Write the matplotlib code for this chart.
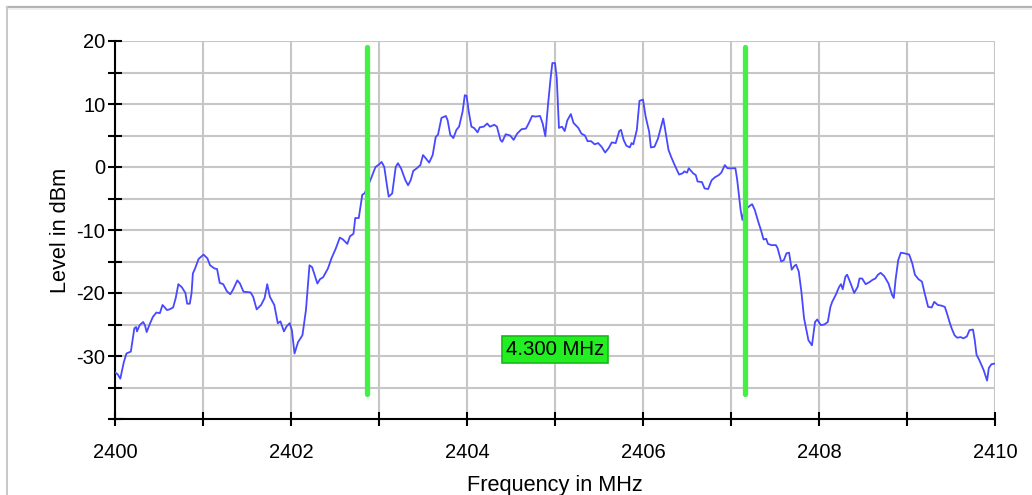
import matplotlib
matplotlib.use("Agg")
import matplotlib.pyplot as plt
from matplotlib.lines import Line2D

plt.rcParams['font.family'] = ['Liberation Sans', 'DejaVu Sans']

# ---------------- data ----------------
freq = [
    2400.00, 2400.03, 2400.06, 2400.10, 2400.13, 2400.18, 2400.22, 2400.24, 2400.25, 2400.28,
    2400.32, 2400.34, 2400.36, 2400.39, 2400.43, 2400.47, 2400.51, 2400.54, 2400.56, 2400.59,
    2400.62, 2400.66, 2400.69, 2400.72, 2400.76, 2400.80, 2400.82, 2400.85, 2400.87, 2400.885,
    2400.91, 2400.95, 2401.006, 2401.05, 2401.08, 2401.13, 2401.16, 2401.19, 2401.23, 2401.27,
    2401.31, 2401.34, 2401.39, 2401.42, 2401.46, 2401.54, 2401.57, 2401.61, 2401.66, 2401.70,
    2401.73, 2401.76, 2401.81, 2401.85, 2401.88, 2401.92, 2401.95, 2401.985, 2402.01, 2402.04,
    2402.08, 2402.13, 2402.17, 2402.21, 2402.24, 2402.30, 2402.33, 2402.365, 2402.42, 2402.46,
    2402.51, 2402.555, 2402.59, 2402.64, 2402.67, 2402.71, 2402.73, 2402.77, 2402.79, 2402.81,
    2402.835, 2402.86, 2402.91, 2402.96, 2403.00, 2403.03, 2403.06, 2403.09, 2403.11, 2403.15,
    2403.19, 2403.215, 2403.25, 2403.30, 2403.33, 2403.36, 2403.39, 2403.43, 2403.47, 2403.50,
    2403.53, 2403.57, 2403.61, 2403.645, 2403.67, 2403.71, 2403.76, 2403.78, 2403.81, 2403.845,
    2403.88, 2403.91, 2403.95, 2403.975, 2403.995, 2404.02, 2404.05, 2404.08, 2404.12, 2404.145,
    2404.19, 2404.23, 2404.26, 2404.31, 2404.34, 2404.38, 2404.40, 2404.44, 2404.49, 2404.53,
    2404.57, 2404.62, 2404.67, 2404.70, 2404.74, 2404.78, 2404.83, 2404.86, 2404.89, 2404.92,
    2404.95, 2404.97, 2405.00, 2405.02, 2405.045, 2405.08, 2405.11, 2405.14, 2405.18, 2405.21,
    2405.265, 2405.30, 2405.34, 2405.37, 2405.41, 2405.45, 2405.49, 2405.53, 2405.57, 2405.61,
    2405.645, 2405.69, 2405.73, 2405.75, 2405.78, 2405.81, 2405.85, 2405.87, 2405.89, 2405.93,
    2405.96, 2406.00, 2406.03, 2406.07, 2406.09, 2406.13, 2406.17, 2406.20, 2406.23, 2406.25,
    2406.29, 2406.32, 2406.36, 2406.41, 2406.45, 2406.47, 2406.50, 2406.52, 2406.57, 2406.60,
    2406.62, 2406.67, 2406.70, 2406.74, 2406.78, 2406.82, 2406.86, 2406.89, 2406.93, 2406.96,
    2407.00, 2407.05, 2407.07, 2407.09, 2407.11, 2407.13, 2407.15, 2407.21, 2407.24, 2407.27,
    2407.31, 2407.34, 2407.37, 2407.40, 2407.42, 2407.46, 2407.51, 2407.53, 2407.57, 2407.60,
    2407.63, 2407.66, 2407.69, 2407.72, 2407.74, 2407.77, 2407.80, 2407.83, 2407.88, 2407.92,
    2407.955, 2407.98, 2408.02, 2408.06, 2408.10, 2408.13, 2408.15, 2408.19, 2408.23, 2408.25,
    2408.27, 2408.30, 2408.32, 2408.36, 2408.40, 2408.44, 2408.46, 2408.49, 2408.53, 2408.57,
    2408.61, 2408.64, 2408.67, 2408.70, 2408.74, 2408.79, 2408.83, 2408.85, 2408.87, 2408.90,
    2408.93, 2408.97, 2409.025, 2409.06, 2409.09, 2409.13, 2409.17, 2409.20, 2409.24, 2409.28,
    2409.31, 2409.35, 2409.39, 2409.43, 2409.46, 2409.49, 2409.51, 2409.54, 2409.57, 2409.61,
    2409.64, 2409.68, 2409.71, 2409.75, 2409.77, 2409.79, 2409.82, 2409.87, 2409.91, 2409.93,
    2409.96, 2410.00,
]
level = [
    -32.6, -32.9, -33.6, -31.0, -29.6, -29.3, -25.6, -25.4, -26.1, -25.1,
    -24.6, -25.1, -26.2, -25.1, -23.8, -23.1, -23.2, -21.9, -22.2, -22.7,
    -22.6, -22.3, -20.8, -18.6, -19.1, -20.0, -21.7, -21.7, -20.0, -16.9,
    -16.1, -14.6, -13.9, -14.5, -15.6, -16.1, -16.2, -18.4, -18.6, -19.7,
    -20.2, -19.5, -18.0, -18.5, -19.8, -19.9, -20.6, -22.6, -21.9, -20.8,
    -18.6, -20.6, -21.9, -24.8, -24.5, -26.1, -25.3, -24.8, -25.9, -29.6,
    -27.8, -26.7, -22.7, -15.6, -15.9, -18.5, -17.8, -17.5, -16.1, -14.5,
    -12.9, -11.2, -11.5, -12.2, -11.0, -10.6, -8.1, -8.1, -6.3, -4.4,
    -4.2, -3.5, -1.8, 0.0, 0.4, 0.8, 0.0, -2.9, -4.7, -4.2,
    0.0, 0.6, -0.2, -2.1, -2.9, -2.1, -0.6, -0.2, 0.3, 1.9,
    1.4, 0.7, 1.9, 4.8, 5.1, 7.8, 8.1, 7.4, 5.1, 4.6,
    5.9, 6.4, 8.8, 11.4, 11.3, 8.8, 6.4, 6.2, 5.5, 6.3,
    6.4, 6.9, 6.4, 6.7, 6.4, 4.3, 4.0, 5.2, 5.0, 4.3,
    5.3, 6.0, 6.1, 6.9, 8.1, 8.0, 8.1, 6.9, 4.9, 9.8,
    14.1, 16.5, 16.5, 14.1, 6.2, 6.4, 5.7, 7.4, 8.4, 7.0,
    6.2, 5.3, 5.0, 4.1, 4.1, 3.6, 3.8, 3.2, 2.3, 3.0,
    3.9, 3.8, 5.7, 5.9, 4.3, 3.4, 3.1, 3.8, 3.6, 5.9,
    10.5, 10.7, 8.0, 5.6, 3.1, 3.2, 4.5, 6.1, 7.7, 6.1,
    2.7, 1.6, 0.3, -1.2, -1.0, -0.7, -0.9, -0.2, -1.0, -1.3,
    -2.3, -2.4, -3.4, -3.5, -2.1, -1.6, -1.3, -0.9, 0.3, -0.2,
    -0.2, -0.2, -2.0, -4.5, -6.9, -8.4, -7.0, -6.2, -5.9, -6.8,
    -8.7, -10.0, -11.5, -11.4, -12.2, -12.4, -12.4, -12.9, -15.0, -14.8,
    -13.7, -13.6, -16.3, -15.7, -15.5, -16.6, -19.8, -24.0, -27.5, -28.3,
    -24.6, -24.2, -25.1, -25.0, -24.6, -22.2, -21.4, -20.3, -19.0, -18.6,
    -19.4, -17.4, -17.1, -18.5, -20.0, -19.0, -17.7, -17.7, -18.6, -18.3,
    -17.9, -17.7, -17.1, -16.8, -17.3, -18.5, -20.3, -20.8, -17.9, -14.8,
    -13.6, -13.7, -13.9, -15.3, -17.1, -17.8, -18.2, -20.0, -22.2, -22.3,
    -21.4, -21.9, -22.0, -22.2, -23.5, -24.9, -25.7, -26.7, -27.1, -27.0,
    -27.2, -26.9, -25.9, -25.8, -27.5, -29.8, -30.6, -32.2, -33.9, -31.9,
    -31.3, -31.2,
]

marker_freqs = [2402.86, 2407.16]
marker_levels = [-36, 19]
span_label = "4.300 MHz"
span_label_pos = [2405.0, -29.0]

x_ticks = [2400, 2401, 2402, 2403, 2404, 2405, 2406, 2407, 2408, 2409, 2410]
x_tick_labels = ['2400', '', '2402', '', '2404', '', '2406', '', '2408', '', '2410']
y_ticks = [-40, -35, -30, -25, -20, -15, -10, -5, 0, 5, 10, 15, 20]
y_tick_labels = ['', '', '-30', '', '-20', '', '-10', '', '0', '', '10', '', '20']

x_label = "Frequency in MHz"
y_label = "Level in dBm"

# ---------------- figure ----------------
W, H = 1032, 495
fig = plt.figure(figsize=(W / 100, H / 100), dpi=100)
ax = fig.add_axes([115 / W, 1 - 419 / H, (995 - 115) / W, (419 - 41) / H])

# outer frame (top and left edges visible)
fig.add_artist(Line2D([7 / W, 1.0], [1 - 7 / H, 1 - 7 / H], color='#b4b4b4', lw=1.6))
fig.add_artist(Line2D([7 / W, 1.0], [1 - 9 / H, 1 - 9 / H], color='#ececec', lw=1.2))
fig.add_artist(Line2D([7 / W, 7 / W], [0.0, 1 - 7 / H], color='#c8c8c8', lw=1.4))

ax.set_xlim(2400, 2410)
ax.set_ylim(-40, 20)

ax.set_xticks(x_ticks)
ax.set_xticklabels(x_tick_labels)
ax.set_yticks(y_ticks)
ax.set_yticklabels(y_tick_labels)

ax.grid(True, color='#c6c6c6', lw=1.5)
ax.set_axisbelow(True)

for s in ['top', 'right']:
    ax.spines[s].set_visible(False)
for s in ['left', 'bottom']:
    ax.spines[s].set_linewidth(1.5)
    ax.spines[s].set_color('black')

ax.tick_params(axis='both', direction='inout', length=10, width=1.5, colors='black',
               labelsize=14.5)
ax.tick_params(axis='x', pad=12.5)
ax.tick_params(axis='y', pad=2)

ax.plot(freq, level, color='#4848ff', lw=1.3, zorder=3)

for mf in marker_freqs:
    ax.plot([mf, mf], marker_levels, color='#44f044', lw=3.8,
            solid_capstyle='round', zorder=4)

ax.text(span_label_pos[0], span_label_pos[1], span_label, ha='center', va='center',
        fontsize=14.7, color='black', zorder=5,
        bbox=dict(boxstyle='square,pad=0.2', facecolor='#22ee22', edgecolor='#18b818', lw=1.2))

ax.set_xlabel(x_label, fontsize=15.7, labelpad=9.5)
ax.set_ylabel(y_label, fontsize=15.7, labelpad=4)

fig.savefig('out.png', dpi=100)
